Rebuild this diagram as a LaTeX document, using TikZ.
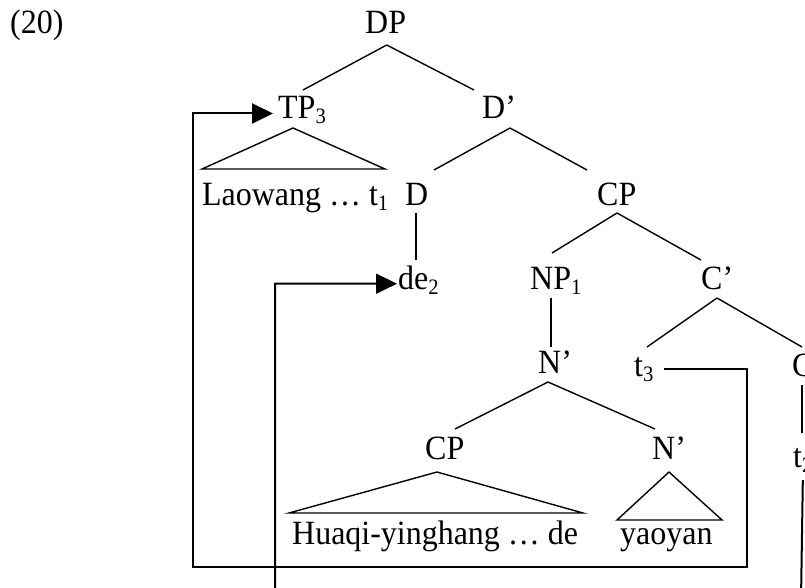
\documentclass[tikz,border=0pt]{standalone}
\usepackage{fontspec}
\setmainfont{Liberation Serif}[FakeStretch=0.94]
\usetikzlibrary{arrows.meta,calc}
\newcommand{\branchwidth}{1.4pt}
\newcommand{\movewidth}{2pt}
\newcommand{\idx}[1]{\raisebox{-5pt}{\fontsize{22}{22}\selectfont #1}}
\tikzset{
  lbl/.style={anchor=base west, inner sep=0pt, font=\fontsize{34}{36}\selectfont},
  branch/.style={line width=\branchwidth},
  move/.style={line width=\movewidth, -{Triangle[length=21pt,width=20pt]}},
}

\begin{document}
\begin{tikzpicture}[x=1pt,y=-1pt]
\useasboundingbox (0,0) rectangle (805,587);
\clip (0,0) rectangle (805,587);
% labels
\node[lbl] (ex) at (10,33) {(20)};
\node[lbl] (DP) at (365,33) {DP};
\node[lbl] (TP) at (278,118) {TP\idx{3}};
\node[lbl] (Dbar) at (482,118) {D’};
\node[lbl] (Laowang) at (202,205) {Laowang … t\idx{1}};
\node[lbl] (D) at (405,205) {D};
\node[lbl] (CPa) at (597,205) {CP};
\node[lbl] (de) at (398,289) {de\idx{2}};
\node[lbl] (NP) at (530,289) {NP\idx{1}};
\node[lbl] (Cbar) at (701,289) {C’};
\node[lbl] (Nbara) at (538,373) {N’};
\node[lbl] (tthree) at (634,376) {t\idx{3}};
\node[lbl] (C) at (792,376) {C};
\node[lbl] (ttwo) at (793,467) {t\idx{2}};
\node[lbl] (CPb) at (425,459) {CP};
\node[lbl] (Nbarb) at (652,459) {N’};
\node[lbl] (Huaqi) at (292,544) {Huaqi-yinghang … de};
\node[lbl] (yaoyan) at (620,544) {yaoyan};
% branch ends
\coordinate (DP-s) at (386.7,45);
\coordinate (TP-n) at (303,90);
\coordinate (Dbar-n) at (474,90);
\coordinate (Dbar-s) at (510,128);
\coordinate (D-n) at (434,170);
\coordinate (CPa-n) at (587,170);
\coordinate (D-s) at (416,213);
\coordinate (de-n) at (416,260);
\coordinate (CPa-s) at (617,213);
\coordinate (NP-n) at (552,253);
\coordinate (Cbar-n) at (701,260);
\coordinate (NP-s) at (551,298);
\coordinate (Nbara-n) at (551,347);
\coordinate (Cbar-s) at (717,298);
\coordinate (tthree-n) at (647,347);
\coordinate (C-n) at (802,347);
\coordinate (C-s) at (802,385);
\coordinate (ttwo-n) at (802,433);
\coordinate (Nbara-s) at (548,382);
\coordinate (CPb-n) at (455,429);
\coordinate (Nbarb-n) at (655,429);
% branches
\draw[branch] (DP-s) -- (TP-n);
\draw[branch] (DP-s) -- (Dbar-n);
\draw[branch] (Dbar-s) -- (D-n);
\draw[branch] (Dbar-s) -- (CPa-n);
\draw[branch] (D-s) -- (de-n);
\draw[branch] (CPa-s) -- (NP-n);
\draw[branch] (CPa-s) -- (Cbar-n);
\draw[branch] (NP-s) -- (Nbara-n);
\draw[branch] (Cbar-s) -- (tthree-n);
\draw[branch] (Cbar-s) -- (C-n);
\draw[branch] (C-s) -- (ttwo-n);
\draw[branch] (Nbara-s) -- (CPb-n);
\draw[branch] (Nbara-s) -- (Nbarb-n);
% roofs
\draw[branch] (293,128) -- (202,169) -- (385,169) -- cycle;
\draw[branch] (437,472) -- (289,513) -- (583,513) -- cycle;
\draw[branch] (669,472) -- (617,520) -- (722,520) -- cycle;
% movement arrows
\draw[move] ([xshift=10pt]tthree.east) -| (747,567) -- (193,567) |- ([xshift=-5pt,yshift=-4pt]TP.west);
\draw[move] ([yshift=-8pt]ttwo.south) -- (801,600) -- (275,600) |- ([xshift=-1pt,yshift=-4pt]de.west);
\end{tikzpicture}
\end{document}
